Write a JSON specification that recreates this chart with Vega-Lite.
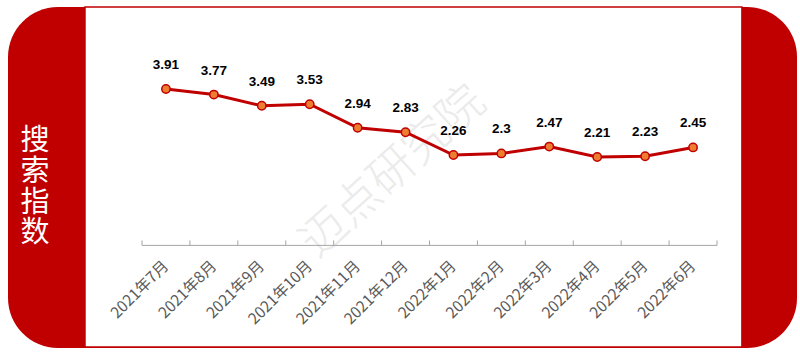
{
  "$schema": "https://vega.github.io/schema/vega-lite/v6.json",
  "width": 789,
  "height": 341,
  "autosize": {"type": "none"},
  "padding": {"left": 8, "top": 7, "right": 3, "bottom": 9},
  "background": "white",
  "config": {
    "view": {"fill": "#C00000", "stroke": null, "cornerRadius": 50},
    "font": "Noto Sans CJK SC"
  },
  "datasets": {
    "search": [
      {"month": "2021年7月", "value": 3.91, "label": "3.91"},
      {"month": "2021年8月", "value": 3.77, "label": "3.77"},
      {"month": "2021年9月", "value": 3.49, "label": "3.49"},
      {"month": "2021年10月", "value": 3.53, "label": "3.53"},
      {"month": "2021年11月", "value": 2.94, "label": "2.94"},
      {"month": "2021年12月", "value": 2.83, "label": "2.83"},
      {"month": "2022年1月", "value": 2.26, "label": "2.26"},
      {"month": "2022年2月", "value": 2.3, "label": "2.3"},
      {"month": "2022年3月", "value": 2.47, "label": "2.47"},
      {"month": "2022年4月", "value": 2.21, "label": "2.21"},
      {"month": "2022年5月", "value": 2.23, "label": "2.23"},
      {"month": "2022年6月", "value": 2.45, "label": "2.45"}
    ],
    "single": [{"title": "搜索指数", "watermark": "迈点研究院"}]
  },
  "layer": [
    {
      "data": {"name": "single"},
      "mark": {"type": "rect", "fill": "white", "stroke": "#C00000", "strokeWidth": 1.5},
      "encoding": {
        "x": {"datum": "2021年7月", "type": "ordinal", "bandPosition": -1.19, "axis": null,
          "scale": {"type": "band", "domain": ["2021年7月","2021年8月","2021年9月","2021年10月","2021年11月","2021年12月","2022年1月","2022年2月","2022年3月","2022年4月","2022年5月","2022年6月"], "paddingInner": 0, "paddingOuter": 0, "range": [134, 709]}},
        "x2": {"datum": "2022年6月", "bandPosition": 1.52},
        "y": {"datum": 5.96, "type": "quantitative", "axis": null, "scale": {"domain": [-2.565, 5.96], "nice": false, "zero": false}},
        "y2": {"datum": -2.54}
      }
    },
    {
      "data": {"name": "single"},
      "mark": {"type": "text", "fontSize": 46, "fill": "#ebebeb", "angle": -42, "align": "center", "baseline": "middle", "fontWeight": 300},
      "encoding": {
        "x": {"datum": "2021年12月", "type": "ordinal", "bandPosition": 0.24, "axis": null},
        "y": {"datum": 1.835, "type": "quantitative", "axis": null},
        "text": {"field": "watermark", "type": "nominal"}
      }
    },
    {
      "data": {"name": "single"},
      "transform": [{"calculate": "split(datum.title, '')", "as": "lines"}],
      "mark": {"type": "text", "fontSize": 29, "lineHeight": 30.7, "fill": "white", "align": "center", "baseline": "middle"},
      "encoding": {
        "x": {"datum": "2021年7月", "type": "ordinal", "bandPosition": -2.233, "axis": null},
        "y": {"datum": 2.6, "type": "quantitative", "axis": null},
        "text": {"field": "lines", "type": "nominal"}
      }
    },
    {
      "data": {"name": "single"},
      "mark": {"type": "rule", "stroke": "#a6a6a6", "strokeWidth": 1},
      "encoding": {
        "x": {"datum": "2021年7月", "type": "ordinal", "bandPosition": 0, "axis": null},
        "x2": {"datum": "2022年6月", "bandPosition": 1},
        "y": {"datum": 0, "type": "quantitative", "axis": null}
      }
    },
    {
      "data": {"name": "single"},
      "mark": {"type": "rule", "stroke": "#a6a6a6", "strokeWidth": 1},
      "encoding": {
        "x": {"datum": "2022年6月", "type": "ordinal", "bandPosition": 1, "axis": null},
        "y": {"datum": 0, "type": "quantitative", "axis": null},
        "y2": {"datum": 0.125}
      }
    },
    {
      "data": {"name": "search"},
      "mark": {"type": "rule", "stroke": "#a6a6a6", "strokeWidth": 1},
      "encoding": {
        "x": {"field": "month", "type": "ordinal", "sort": null, "bandPosition": 0, "axis": null},
        "y": {"datum": 0, "type": "quantitative", "axis": null},
        "y2": {"datum": 0.125}
      }
    },
    {
      "data": {"name": "search"},
      "mark": {"type": "text", "angle": -45, "align": "right", "baseline": "middle", "fontSize": 15.5, "fill": "#595959", "font": "Noto Sans CJK SC"},
      "encoding": {
        "x": {"field": "month", "type": "ordinal", "sort": null, "axis": null},
        "y": {"datum": -0.45, "type": "quantitative", "axis": null},
        "text": {"field": "month", "type": "nominal"}
      }
    },
    {
      "data": {"name": "search"},
      "mark": {"type": "line", "stroke": "#C00000", "strokeWidth": 3},
      "encoding": {
        "x": {"field": "month", "type": "ordinal", "sort": null, "axis": null},
        "y": {"field": "value", "type": "quantitative", "axis": null}
      }
    },
    {
      "data": {"name": "search"},
      "mark": {"type": "point", "filled": true, "fill": "#ED7D31", "stroke": "#C00000", "strokeWidth": 1.5, "size": 70, "opacity": 1},
      "encoding": {
        "x": {"field": "month", "type": "ordinal", "sort": null, "axis": null},
        "y": {"field": "value", "type": "quantitative", "axis": null}
      }
    },
    {
      "data": {"name": "search"},
      "mark": {"type": "text", "dy": -24, "fontSize": 13.5, "fontWeight": "bold", "fill": "#000000", "font": "Liberation Sans", "align": "center", "baseline": "middle"},
      "encoding": {
        "x": {"field": "month", "type": "ordinal", "sort": null, "axis": null},
        "y": {"field": "value", "type": "quantitative", "axis": null},
        "text": {"field": "label", "type": "nominal"}
      }
    }
  ]
}
